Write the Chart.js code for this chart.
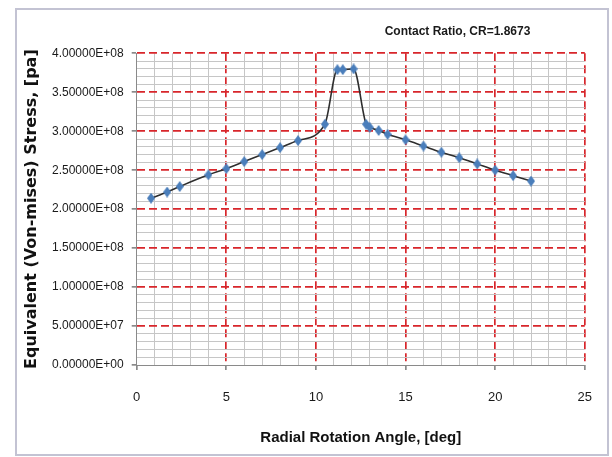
<!DOCTYPE html>
<html>
<head>
<meta charset="utf-8">
<script src="https://cdn.jsdelivr.net/npm/chart.js@4.4.0/dist/chart.umd.min.js"></script>
<style>
  html, body { margin: 0; padding: 0; background: #fff; }
  #wrap { width: 612px; height: 457px; }
</style>
</head>
<body>
<div id="wrap"><canvas id="stress-chart" width="612" height="457"></canvas></div>
<script>
// radial rotation angle [deg] vs equivalent (von-mises) stress [pa]
const angleDeg = [0.8, 1.7, 2.4, 4.0, 5.0, 6.0, 7.0, 8.0, 9.0, 10.5, 11.2, 11.5, 12.1,
                  12.8, 13.0, 13.5, 14.0, 15.0, 16.0, 17.0, 18.0, 19.0, 20.0, 21.0, 22.0];
const stressPa = [2.14e8, 2.22e8, 2.29e8, 2.44e8, 2.52e8, 2.61e8, 2.70e8, 2.79e8, 2.88e8, 3.09e8, 3.79e8, 3.79e8, 3.80e8,
                  3.09e8, 3.05e8, 3.01e8, 2.96e8, 2.89e8, 2.81e8, 2.73e8, 2.66e8, 2.58e8, 2.50e8, 2.43e8, 2.36e8];
const xTickLabels = [0, 5, 10, 15, 20, 25];
const yTickLabels = [0, 5e7, 1e8, 1.5e8, 2e8, 2.5e8, 3e8, 3.5e8, 4e8];
const captionText = 'Contact Ratio, CR=1.8673';

const RED = '#d8262b';
const MINOR = '#c6c6c6';
const AXIS = '#8a8a8a';
const FONT = 'Liberation Sans, Arial, sans-serif';

function sci(v) {
    // Excel style 4.00000E+08
    return v.toExponential(5).toUpperCase().replace(/E([+-])(\d)$/, 'E$10$2');
}

function isMajorX(v) { return xTickLabels.includes(Math.round(v)) && Math.abs(v - Math.round(v)) < 1e-6; }
function isMajorY(v) { return yTickLabels.some(t => Math.abs(t - v) < 1); }

// Excel diamond marker, a bit taller than wide
function diamond(w, h, color) {
    const c = document.createElement('canvas');
    c.width = w; c.height = h;
    const g = c.getContext('2d');
    g.fillStyle = color;
    g.beginPath();
    g.moveTo(w / 2, 0); g.lineTo(w, h / 2); g.lineTo(w / 2, h); g.lineTo(0, h / 2);
    g.closePath();
    g.fill();
    return c;
}

const frame = {
    id: 'frame',
    beforeDraw(chart) {
        const c = chart.ctx;
        c.save();
        c.fillStyle = '#fff';
        c.fillRect(0, 0, chart.width, chart.height);
        c.strokeStyle = '#c3c3d3';
        c.lineWidth = 2;
        c.strokeRect(16, 9, 592, 446);
        c.restore();
    },
    afterDraw(chart) {
        // caption sits right of centre, above the plot
        const a = chart.chartArea;
        const c = chart.ctx;
        c.save();
        c.fillStyle = '#1a1a1a';
        c.font = 'bold 12px ' + FONT;
        c.textAlign = 'center';
        c.textBaseline = 'middle';
        c.fillText(captionText, a.left + (a.right - a.left) * 0.716, a.top - 22);
        c.restore();
    }
};

let ctx = document.getElementById('stress-chart').getContext('2d');
let stressChart = new Chart(ctx, {
    type: 'line',
    data: {
        datasets: [{
            data: angleDeg.map((a, i) => ({ x: a, y: stressPa[i] })),
            borderColor: '#2e2e2e',
            borderWidth: 1.6,
            cubicInterpolationMode: 'monotone',
            pointStyle: diamond(8, 11, '#4a7ebb'),
            pointRadius: 5,
            fill: false
        }]
    },
    options: {
        responsive: false,
        animation: false,
        layout: { padding: { left: 20, right: 24.7, top: 53.3, bottom: 10 } },
        plugins: {
            legend: { display: false },
            tooltip: { enabled: false },
            title: { display: false }
        },
        scales: {
            x: {
                type: 'linear',
                min: 0,
                max: 25,
                ticks: {
                    stepSize: 1,
                    autoSkip: false,
                    maxRotation: 0,
                    padding: 20,
                    color: '#1a1a1a',
                    font: { family: FONT, size: 13 },
                    callback: v => isMajorX(v) ? String(v) : ''
                },
                grid: {
                    color: c => c.tick && c.tick.value === 0 ? 'transparent' : (isMajorX(c.tick.value) ? RED : MINOR),
                    lineWidth: c => c.tick && isMajorX(c.tick.value) ? 1.7 : 1,
                    tickColor: c => c.tick && isMajorX(c.tick.value) ? AXIS : 'transparent',
                    tickLength: 5
                },
                border: {
                    color: AXIS,
                    width: 1,
                    dash: c => c.tick && isMajorX(c.tick.value) ? [8, 4] : []
                },
                title: {
                    display: true,
                    text: 'Radial Rotation Angle, [deg]',
                    color: '#111',
                    font: { family: FONT, size: 15, weight: 'bold' },
                    padding: { top: 2, bottom: 0 }
                },
                afterFit: s => { s.height = 82; }
            },
            y: {
                min: 0,
                max: 4e8,
                ticks: {
                    stepSize: 1e7,
                    autoSkip: false,
                    padding: 8,
                    color: '#1a1a1a',
                    font: { family: FONT, size: 12 },
                    callback: v => isMajorY(v) ? sci(v) : ''
                },
                grid: {
                    color: c => c.tick && c.tick.value === 0 ? 'transparent' : (isMajorY(c.tick.value) ? RED : MINOR),
                    lineWidth: c => c.tick && isMajorY(c.tick.value) ? 1.7 : 1,
                    tickColor: c => c.tick && isMajorY(c.tick.value) ? AXIS : 'transparent',
                    tickLength: 5
                },
                border: {
                    color: AXIS,
                    width: 1,
                    dash: c => c.tick && isMajorY(c.tick.value) ? [8, 4] : []
                },
                title: {
                    display: true,
                    text: 'Equivalent (Von-mises) Stress, [pa]',
                    color: '#111',
                    font: { family: 'DejaVu Sans', size: 16, weight: 'bold' },
                    padding: { top: 2, bottom: 0 }
                },
                afterFit: s => { s.width = 116.7; }
            }
        }
    },
    plugins: [frame]
});
</script>
</body>
</html>
